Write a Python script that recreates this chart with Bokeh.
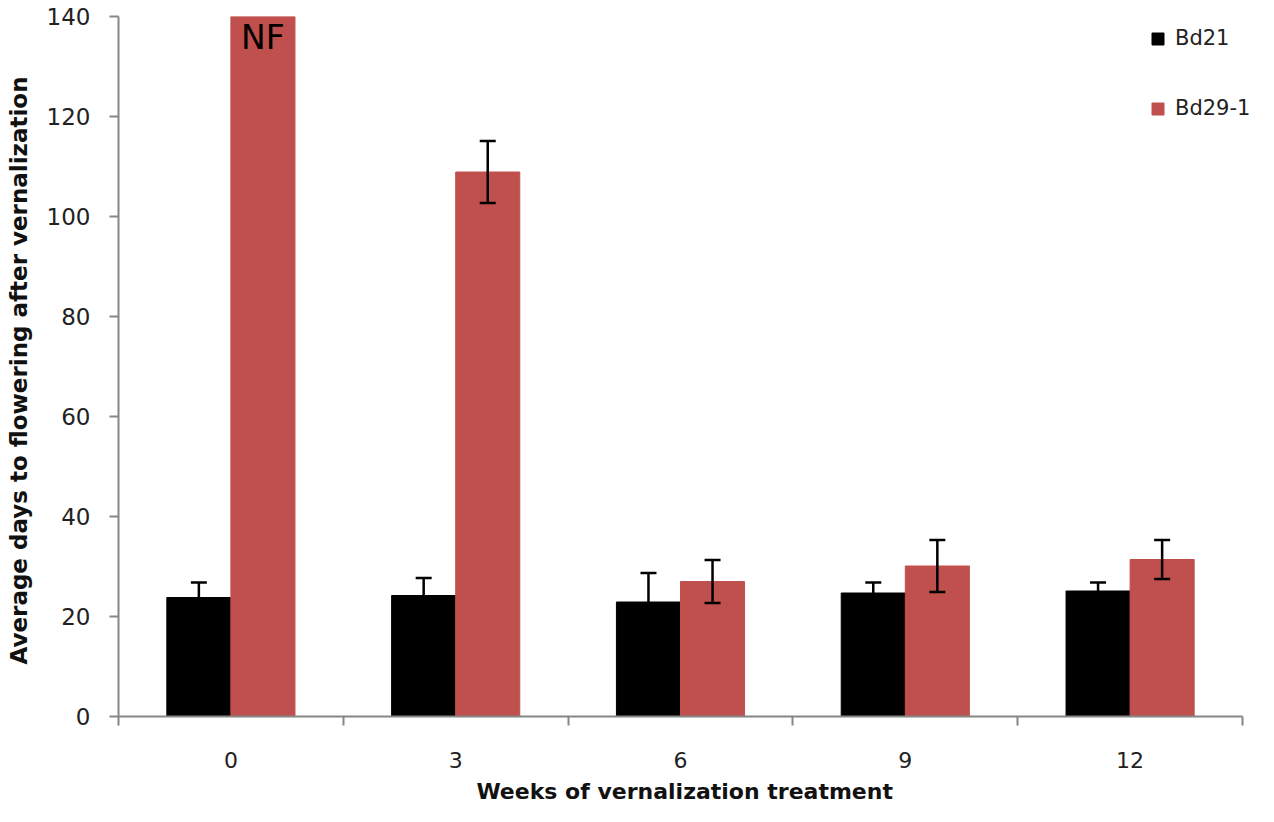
from bokeh.plotting import figure
from bokeh.models import FixedTicker, ColumnDataSource, Whisker, Legend, LegendItem
from bokeh.embed import file_html
from bokeh.resources import INLINE
from bokeh.core.properties import value

weeks = ["0", "3", "6", "9", "12"]
bd21 = [23.8, 24.2, 22.9, 24.7, 25.1]
bd21_err = [3.0, 3.5, 5.8, 2.1, 1.7]
bd29 = [140.0, 108.9, 27.0, 30.1, 31.4]
bd29_err = [0.0, 6.2, 4.3, 5.2, 3.9]
nf_label = "NF"

RED = "#C0504D"
AX = "#868686"
BW = 0.285

n = len(weeks)
idx = [i + 0.5 for i in range(n)]
x21 = [c - BW / 2 for c in idx]
x29 = [c + BW / 2 for c in idx]

src21 = ColumnDataSource(dict(x=x21, top=bd21,
                              lo=[v - e for v, e in zip(bd21, bd21_err)],
                              hi=[v + e for v, e in zip(bd21, bd21_err)]))
e29x = [x for x, e in zip(x29, bd29_err) if e > 0]
e29v = [v for v, e in zip(bd29, bd29_err) if e > 0]
e29e = [e for e in bd29_err if e > 0]
src29 = ColumnDataSource(dict(x=x29, top=bd29))
src29e = ColumnDataSource(dict(x=e29x, lo=[v - e for v, e in zip(e29v, e29e)],
                               hi=[v + e for v, e in zip(e29v, e29e)]))

# frame spans the full right side so the legend is not clipped; the axis stops at n
p = figure(width=1258, height=806, output_backend="svg", toolbar_location=None,
           x_range=(0, n * 1140 / 1124), y_range=(0, 140),
           min_border_left=118, min_border_right=0, min_border_top=16, min_border_bottom=88)
p.outline_line_color = None
p.grid.grid_line_color = None
p.background_fill_color = "white"

r1 = p.vbar(x="x", top="top", width=BW, bottom=0, source=src21, fill_color="black", line_color="black")
r2 = p.vbar(x="x", top="top", width=BW, bottom=0, source=src29, fill_color=RED, line_color=RED)

for s in (src21, src29e):
    w = Whisker(base="x", lower="lo", upper="hi", source=s, line_color="black", line_width=2.5, level="overlay")
    for h in (w.upper_head, w.lower_head):
        h.size = 16
        h.line_width = 2.5
        h.line_color = "black"
    p.add_layout(w)

p.text(x=[x29[0]], y=[bd29[0]], text=[nf_label], text_align="center", text_baseline="top",
       y_offset=1, text_font=value("DejaVu Sans"), text_font_size="33px", text_color="black")

p.xaxis.bounds = (0, n)
p.xaxis.ticker = FixedTicker(ticks=idx, minor_ticks=list(range(n + 1)))
p.xaxis.major_label_overrides = {c: w for c, w in zip(idx, weeks)}
p.xaxis.major_tick_line_color = None
p.xaxis.minor_tick_in = 0
p.xaxis.minor_tick_out = 9
p.xaxis.minor_tick_line_color = AX
p.xaxis.minor_tick_line_width = 2
p.xaxis.major_label_standoff = 26
p.xaxis.major_label_text_font_size = "22px"
p.xaxis.axis_label = "Weeks of vernalization  treatment"
p.xaxis.axis_label_standoff = 8
p.xaxis.axis_label_text_font_size = "22px"

p.yaxis.ticker = FixedTicker(ticks=[0, 20, 40, 60, 80, 100, 120, 140])
p.yaxis.minor_tick_line_color = None
p.yaxis.major_tick_in = 0
p.yaxis.major_tick_out = 9
p.yaxis.major_tick_line_color = AX
p.yaxis.major_tick_line_width = 2
p.yaxis.major_label_standoff = 19
p.yaxis.major_label_text_font_size = "23px"
p.yaxis.axis_label = "Average days  to flowering after vernalization"
p.yaxis.axis_label_standoff = 12
p.yaxis.axis_label_text_font_size = "23px"

for ax in (p.xaxis, p.yaxis):
    ax.axis_line_color = AX
    ax.axis_line_width = 2
    ax.major_label_text_font = "DejaVu Sans"
    ax.major_label_text_color = "#222222"
    ax.axis_label_text_font = "DejaVu Sans"
    ax.axis_label_text_font_style = "bold"
    ax.axis_label_text_color = "#111111"

legend = Legend(items=[LegendItem(label="Bd21", renderers=[r1]), LegendItem(label="Bd29-1", renderers=[r2])],
                location=(1032, 595), border_line_color=None, background_fill_alpha=0,
                label_text_font="DejaVu Sans", label_text_font_size="21px", label_text_color="#222222",
                glyph_width=15, glyph_height=15, label_height=26, spacing=44, margin=0, padding=0,
                label_standoff=10)
p.add_layout(legend)

open("out.html", "w").write(file_html(p, INLINE))
